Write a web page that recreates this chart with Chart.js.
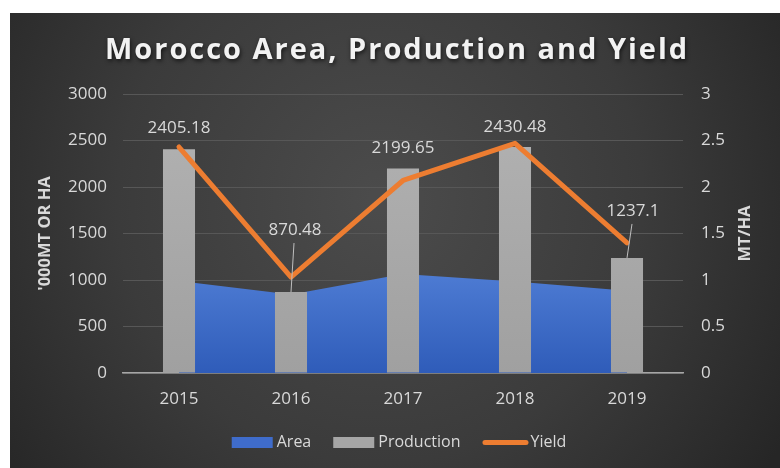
<!DOCTYPE html>
<html><head><meta charset="utf-8">
<script src="https://cdn.jsdelivr.net/npm/chart.js@4.4.0/dist/chart.umd.min.js"></script>
<style>html,body{margin:0;padding:0;background:#fff;}#wrap{width:780px;height:468px;position:relative}</style>
</head><body><div id="wrap"><canvas id="c" width="780" height="468"></canvas></div>
<script>
const categories = ['2015', '2016', '2017', '2018', '2019'];
const areaValues = [990, 845, 1065, 985, 885];
const productionValues = [2405.18, 870.48, 2199.65, 2430.48, 1237.1];
const yieldValues = [2.43, 1.03, 2.07, 2.47, 1.40];
const productionLabels = ['2405.18', '870.48', '2199.65', '2430.48', '1237.1'];
const titleText = 'Morocco Area, Production and Yield';
const leftAxisTitle = "'000MT OR HA";
const rightAxisTitle = 'MT/HA';
const legendNames = ['Area', 'Production', 'Yield'];

const FONT = '"Open Sans", "Noto Sans", sans-serif';
const TXT = '#d9d9d9';
// label placement relative to bar top: [dx, dy, leader]
const labelShift = [[0, 21, false], [4, 62, true], [0, 20, false], [0, 20, false], [6, 47, true]];

function areaGrad(ctx) {
  const ca = ctx.chart.chartArea;
  if (!ca) return '#4472C4';
  const g = ctx.chart.ctx.createLinearGradient(0, ca.top + 180, 0, ca.bottom);
  g.addColorStop(0, '#4d7bd3');
  g.addColorStop(1, '#2f5cb9');
  return g;
}
function barGrad(ctx) {
  const ca = ctx.chart.chartArea;
  if (!ca) return '#a6a6a6';
  const g = ctx.chart.ctx.createLinearGradient(0, ca.top, 0, ca.bottom);
  g.addColorStop(0, '#b3b3b3');
  g.addColorStop(1, '#a0a0a0');
  return g;
}

const decor = {
  id: 'decor',
  beforeDraw(chart) {
    const c = chart.ctx;
    c.save();
    c.fillStyle = '#ffffff';
    c.fillRect(0, 0, 780, 468);
    const g = c.createRadialGradient(380, 200, 10, 380, 200, 470);
    g.addColorStop(0, '#4b4b4b');
    g.addColorStop(0.55, '#3b3b3b');
    g.addColorStop(1, '#262626');
    c.fillStyle = g;
    c.fillRect(10, 13, 770, 455);
    c.restore();
  },
  afterDatasetsDraw(chart) {
    const c = chart.ctx;
    const meta = chart.getDatasetMeta(1);
    c.save();
    c.font = '17px ' + FONT;
    c.fillStyle = TXT;
    c.textAlign = 'center';
    c.textBaseline = 'middle';
    meta.data.forEach((bar, i) => {
      const [dx, dy, leader] = labelShift[i];
      const lx = bar.x + dx, ly = bar.y - dy;
      c.fillText(productionLabels[i], lx, ly);
      if (leader) {
        c.strokeStyle = '#bfbfbf';
        c.lineWidth = 1;
        c.beginPath();
        c.moveTo(lx - 1, ly + 13);
        c.lineTo(bar.x, bar.y);
        c.stroke();
      }
    });
    c.restore();
  },
  afterDraw(chart) {
    const c = chart.ctx;
    const ca = chart.chartArea;
    c.save();
    // title
    c.font = 'bold 29px ' + FONT;
    c.textBaseline = 'alphabetic';
    c.textAlign = 'left';
    const targetW = 582;
    const w0 = c.measureText(titleText).width;
    const ls = (targetW - w0) / (titleText.length - 1);
    c.letterSpacing = ls.toFixed(2) + 'px';
    c.shadowColor = 'rgba(0,0,0,0.65)';
    c.shadowBlur = 4;
    c.shadowOffsetX = 1;
    c.shadowOffsetY = 2;
    c.fillStyle = '#f2f2f2';
    c.fillText(titleText, 105, 59);
    c.letterSpacing = '0px';
    c.shadowColor = 'rgba(0,0,0,0)';
    // axis titles
    c.font = 'bold 16.5px ' + FONT;
    c.fillStyle = TXT;
    c.textAlign = 'center';
    c.textBaseline = 'middle';
    const midY = (ca.top + ca.bottom) / 2;
    c.save();
    c.translate(45, midY);
    c.rotate(-Math.PI / 2);
    c.fillText(leftAxisTitle, 0, 0);
    c.restore();
    c.save();
    c.translate(745, midY);
    c.rotate(-Math.PI / 2);
    c.fillText(rightAxisTitle, 0, 0);
    c.restore();
    // legend
    c.font = '16px ' + FONT;
    c.textAlign = 'left';
    const ly = 442.5;
    const tw = legendNames.map(n => c.measureText(n).width);
    const boxW = 41, lineW = 46, gapTxt = 4, gapItem = 22;
    const total = boxW + gapTxt + tw[0] + gapItem + boxW + gapTxt + tw[1] + gapItem + lineW + 2 + tw[2];
    let x = 399 - total / 2;
    c.fillStyle = '#3f6ccb';
    c.fillRect(x, ly - 5.5, boxW, 11);
    c.fillStyle = TXT;
    c.fillText(legendNames[0], x + boxW + gapTxt, ly);
    x += boxW + gapTxt + tw[0] + gapItem;
    c.fillStyle = '#a6a6a6';
    c.fillRect(x, ly - 5.5, boxW, 11);
    c.fillStyle = TXT;
    c.fillText(legendNames[1], x + boxW + gapTxt, ly);
    x += boxW + gapTxt + tw[1] + gapItem;
    c.strokeStyle = '#ED7D31';
    c.lineWidth = 5;
    c.lineCap = 'round';
    c.beginPath();
    c.moveTo(x + 2.5, ly);
    c.lineTo(x + lineW - 2.5, ly);
    c.stroke();
    c.fillStyle = TXT;
    c.fillText(legendNames[2], x + lineW + 2, ly);
    c.restore();
  }
};

new Chart(document.getElementById('c'), {
  type: 'bar',
  data: {
    labels: categories,
    datasets: [
      {
        type: 'line', label: 'Yield', data: yieldValues, yAxisID: 'y1',
        borderColor: '#ED7D31', borderWidth: 5, pointRadius: 0, tension: 0,
        borderJoinStyle: 'round', borderCapStyle: 'round', fill: false, order: 0
      },
      {
        type: 'bar', label: 'Production', data: productionValues, yAxisID: 'y',
        backgroundColor: barGrad, categoryPercentage: 1, barPercentage: 0.286, order: 1
      },
      {
        type: 'line', label: 'Area', data: areaValues, yAxisID: 'y',
        fill: 'origin', backgroundColor: areaGrad, borderWidth: 0, pointRadius: 0,
        tension: 0, order: 2
      }
    ]
  },
  options: {
    responsive: false,
    animation: false,
    devicePixelRatio: 1,
    layout: { padding: { top: 94, left: 0, right: 0, bottom: 0 } },
    plugins: { legend: { display: false }, tooltip: { enabled: false }, title: { display: false } },
    scales: {
      x: {
        offset: true,
        grid: { display: false, drawTicks: false },
        border: { display: true, color: '#a6a6a6', width: 1.5 },
        ticks: { color: TXT, font: { family: FONT, size: 17 }, padding: 16, maxRotation: 0 },
        afterFit: s => { s.height = 95; }
      },
      y: {
        position: 'left', min: 0, max: 3000,
        ticks: { stepSize: 500, color: TXT, font: { family: FONT, size: 17 }, padding: 16,
                 callback: v => String(v) },
        grid: { color: '#575757', lineWidth: 1, drawTicks: false },
        border: { display: false },
        afterFit: s => { s.width = 123; }
      },
      y1: {
        position: 'right', min: 0, max: 3,
        ticks: { stepSize: 0.5, color: TXT, font: { family: FONT, size: 17 }, padding: 18,
                 callback: v => String(Math.round(v * 10) / 10) },
        grid: { display: false, drawTicks: false },
        border: { display: false },
        afterFit: s => { s.width = 97; }
      }
    }
  },
  plugins: [decor]
});
</script>
</body></html>
